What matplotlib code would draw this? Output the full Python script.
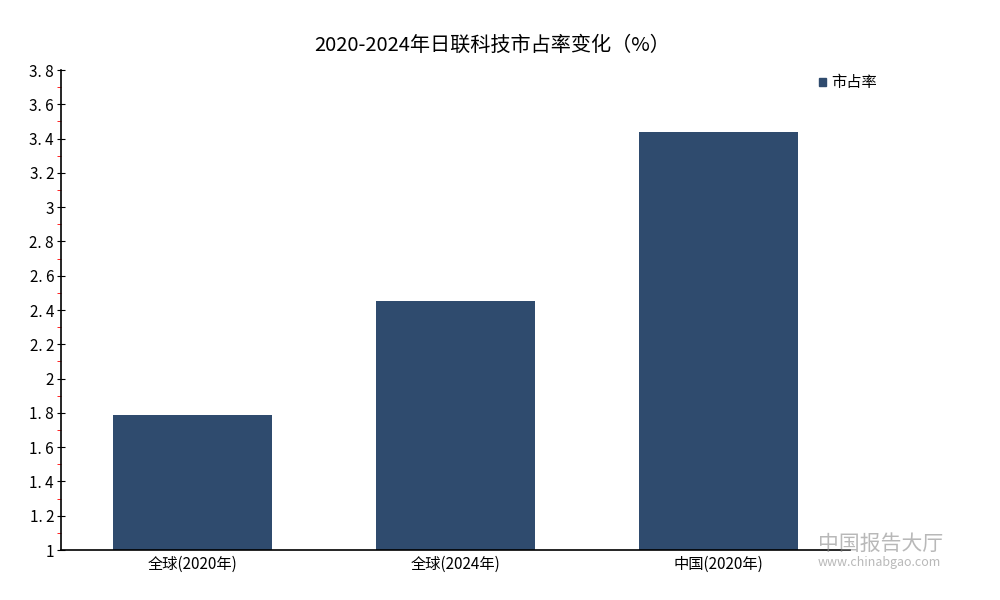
import matplotlib
matplotlib.use("Agg")
import matplotlib.pyplot as plt
from matplotlib.ticker import MultipleLocator, FuncFormatter
from matplotlib.patches import Patch

plt.rcParams['font.family'] = ['Noto Sans CJK SC', 'DejaVu Sans']

categories = ["全球(2020年)", "全球(2024年)", "中国(2020年)"]
values = [1.79, 2.45, 3.44]
series_name = "市占率"
title = "2020-2024年日联科技市占率变化（%）"

fig = plt.figure(figsize=(10, 6), dpi=100)
ax = fig.add_axes([0.061, 0.0833, 0.789, 0.8])
color = "#2F4B6E"
x = list(range(len(categories)))
ax.bar(x, [v - 1 for v in values], bottom=1, width=0.605, color=color)
ax.set_xlim(-0.5, 2.5)
ax.set_ylim(1, 3.8)
ax.set_xticks(x)
ax.set_xticklabels(categories, fontsize=11)
ax.tick_params(axis='x', length=0, pad=4)
ax.yaxis.set_major_locator(MultipleLocator(0.2))
ax.yaxis.set_minor_locator(MultipleLocator(0.1))
ax.yaxis.set_major_formatter(FuncFormatter(lambda v, p: ("%g" % round(v, 1)).replace(".", ". ")))
ax.tick_params(axis='y', which='major', direction='inout', length=6, labelsize=11, pad=2)
ax.tick_params(axis='y', which='minor', direction='out', length=3, color='red')
for s in ['top', 'right']:
    ax.spines[s].set_visible(False)
for s in ['left', 'bottom']:
    ax.spines[s].set_linewidth(1.2)

fig.text(0.492, 0.925, title, ha='center', va='center', fontsize=14.5)

leg = fig.legend(handles=[Patch(color=color, label=series_name)], loc='center left',
                 bbox_to_anchor=(0.805, 0.862), frameon=False, fontsize=11,
                 handlelength=0.5, handleheight=0.5, handletextpad=0.3)

fig.text(0.818, 0.093, "中国报告大厅", fontsize=15, color='#8a8a8a', alpha=0.6, va='center')
fig.text(0.818, 0.062, "www.chinabgao.com", fontsize=9, color='#8a8a8a', alpha=0.6, va='center')

fig.savefig("out.png", dpi=100)
